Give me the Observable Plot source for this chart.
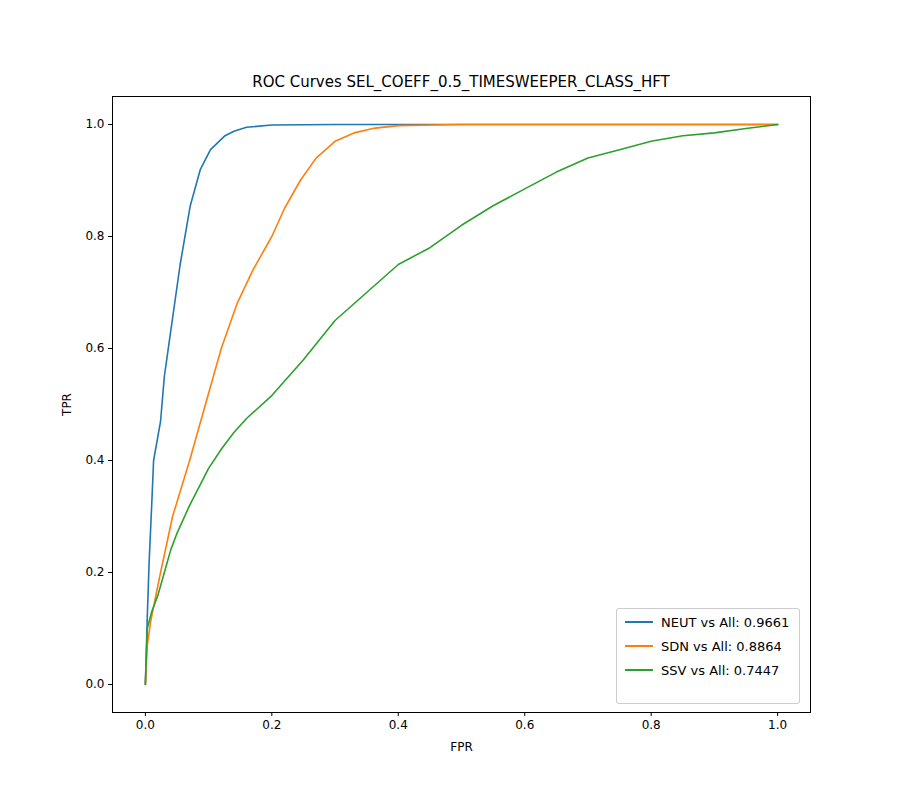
<!DOCTYPE html>
<html>
<head>
<meta charset="utf-8">
<script src="https://cdn.jsdelivr.net/npm/d3@7"></script>
<script src="https://cdn.jsdelivr.net/npm/@observablehq/plot@0.6"></script>
<style>
  body { margin: 0; background: #fff; font-family: "DejaVu Sans", sans-serif; }
  #wrap { position: relative; width: 900px; height: 800px; }
  #title { position: absolute; top: 73px; left: 112px; width: 698px; text-align: center; font-size: 15px; }
  #legend { position: absolute; left: 616px; top: 608px; width: 182px; height: 94px;
    border: 1px solid #ccc; border-radius: 3px; background: rgba(255,255,255,0.8); font-size: 13px; }
  .row { position: absolute; left: 8px; height: 20px; display: flex; align-items: center; }
  .sw { width: 28px; height: 0; border-top: 2px solid; margin-right: 8px; }
</style>
</head>
<body>
<div id="wrap">
  <div id="chart"></div>
  <div id="title">ROC Curves SEL_COEFF_0.5_TIMESWEEPER_CLASS_HFT</div>
  <div id="legend"></div>
</div>
<script>
// Curves: [FPR, TPR]
const neut = [[0,0],[0.003,0.12],[0.006,0.22],[0.01,0.32],[0.013,0.4],[0.024,0.47],[0.03,0.55],[0.04,0.63],[0.055,0.75],[0.071,0.855],[0.087,0.92],[0.103,0.955],[0.126,0.98],[0.14,0.988],[0.16,0.995],[0.2,0.999],[0.3,1],[1,1]];
const sdn = [[0,0],[0.003,0.07],[0.008,0.11],[0.015,0.15],[0.024,0.2],[0.043,0.3],[0.07,0.4],[0.095,0.5],[0.12,0.6],[0.145,0.68],[0.17,0.74],[0.2,0.8],[0.22,0.85],[0.245,0.9],[0.27,0.94],[0.3,0.97],[0.33,0.985],[0.36,0.993],[0.4,0.998],[0.5,1],[1,1]];
const ssv = [[0,0],[0.003,0.1],[0.01,0.13],[0.02,0.16],[0.03,0.2],[0.04,0.24],[0.05,0.27],[0.07,0.32],[0.1,0.386],[0.12,0.42],[0.14,0.45],[0.16,0.475],[0.2,0.516],[0.25,0.58],[0.3,0.65],[0.35,0.7],[0.4,0.75],[0.45,0.78],[0.5,0.82],[0.55,0.855],[0.6,0.885],[0.65,0.915],[0.7,0.94],[0.75,0.955],[0.8,0.97],[0.85,0.98],[0.9,0.985],[0.95,0.993],[1,1]];

const seriesNames = ["NEUT vs All: 0.9661", "SDN vs All: 0.8864", "SSV vs All: 0.7447"];
const seriesColors = ["#1f77b4", "#ff7f0e", "#2ca02c"];
const ticks = [0, 0.2, 0.4, 0.6, 0.8, 1.0];

const rows = [];
[neut, sdn, ssv].forEach((s, i) => s.forEach(([x, y]) => rows.push({ x, y, k: i })));

const plot = Plot.plot({
  width: 900, height: 800,
  marginLeft: 112, marginRight: 90, marginTop: 96, marginBottom: 88,
  style: { fontFamily: "DejaVu Sans, sans-serif", fontSize: "12px", color: "#000" },
  x: { domain: [-0.052, 1.052] },
  y: { domain: [-0.05, 1.05] },
  marks: [
    Plot.frame({ stroke: "#000" }),
    Plot.line(rows, { x: "x", y: "y", z: "k", stroke: (d) => seriesColors[d.k], strokeWidth: 1.6 }),
    Plot.axisX({ ticks, tickFormat: (d) => d.toFixed(1), tickSize: 4, tickPadding: 4, label: "FPR", labelAnchor: "center", labelArrow: "none", labelOffset: 38 }),
    Plot.axisY({ ticks, tickFormat: (d) => d.toFixed(1), tickSize: 4, tickPadding: 4, label: "TPR", labelAnchor: "center", labelArrow: "none", labelOffset: 50 })
  ]
});
document.getElementById("chart").appendChild(plot);

const legend = document.getElementById("legend");
seriesNames.forEach((n, i) => {
  const r = document.createElement("div");
  r.className = "row";
  r.style.top = (3 + i * 24) + "px";
  r.innerHTML = `<span class="sw" style="border-color:${seriesColors[i]}"></span>${n}`;
  legend.appendChild(r);
});
</script>
</body>
</html>
